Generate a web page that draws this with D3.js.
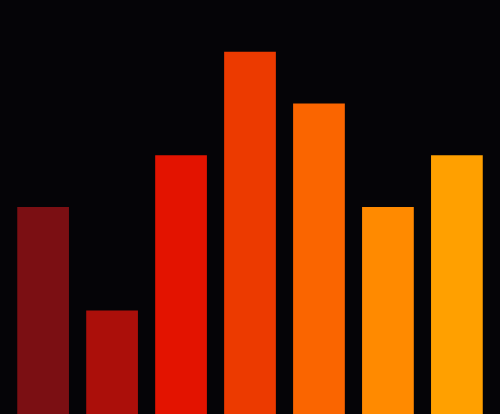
<!DOCTYPE html>
<html><head><meta charset="utf-8">
<script src="https://cdn.jsdelivr.net/npm/d3@7"></script>
<style>html,body{margin:0;padding:0;background:#050407;overflow:hidden}</style>
</head><body>
<svg id="c" width="500" height="414"></svg>
<script>
const categories = ["A","B","C","D","E","F","G"];
const values = [4, 2, 5, 7, 6, 4, 5];
const colors = ["#7b0f13","#ab0f0a","#e31300","#ec3a00","#fa6500","#ff8a00","#ffa000"];
const W = 500, H = 414;
const svg = d3.select("#c");
svg.append("rect").attr("width", W).attr("height", H).attr("fill", "#050407");
const x = d3.scaleBand().domain(categories).range([0, W]).padding(0.25);
const y = d3.scaleLinear().domain([0, 8]).range([H, 0]);
svg.selectAll("rect.bar").data(values).join("rect")
  .attr("class", "bar")
  .attr("x", (d, i) => x(categories[i]))
  .attr("width", x.bandwidth())
  .attr("y", d => y(d))
  .attr("height", d => H - y(d))
  .attr("fill", (d, i) => colors[i]);
</script>
</body></html>
